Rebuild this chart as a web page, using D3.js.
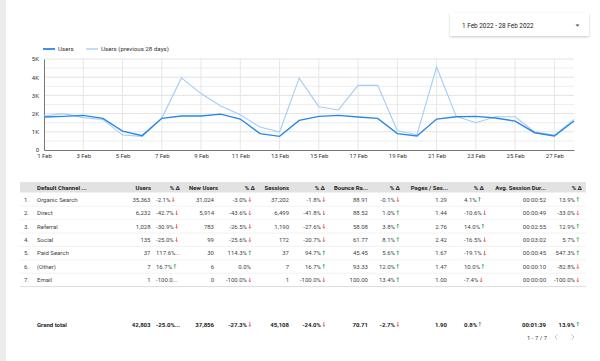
<!DOCTYPE html>
<html>
<head>
<meta charset="utf-8">
<script src="https://cdn.jsdelivr.net/npm/d3@7"></script>
<style>
  body { margin: 0; background: #fff; font-family: Roboto, "Noto Sans", sans-serif; }
  svg { display: block; }
</style>
</head>
<body>
<div id="chart"></div>
<script>
// ---- chart data (Feb 2022, daily) ----
var days = d3.range(1, 29);
var users = [1810, 1850, 1900, 1740, 1040, 790, 1740, 1870, 1870, 1970, 1700, 900, 750, 1630,
  1850, 1900, 1810, 1740, 900, 770, 1700, 1830, 1850, 1760, 1590, 950, 770, 1590];
var usersPrev = [1870, 2000, 1780, 1680, 820, 750, 1740, 3960, 3100, 2420, 1940, 1260, 990, 3950,
  2380, 2200, 3550, 3550, 1060, 840, 4560, 1850, 1500, 1830, 1830, 990, 820, 1680];
var yTicks = [0, 1000, 2000, 3000, 4000, 5000];

// ---- table data ----
var channels = ["Organic Search", "Direct", "Referral", "Social", "Paid Search", "(Other)", "Email"];
var usersCol = ["35,363", "6,232", "1,028", "135", "37", "7", "1"];
var usersDelta = ["-2.1% ↓", "-42.7% ↓", "-30.9% ↓", "-25.0% ↓", "117.6%...", "16.7% ↑", "-100.0..."];
var newUsersCol = ["31,024", "5,914", "783", "99", "30", "6", "0"];
var newUsersDelta = ["-3.0% ↓", "-43.6% ↓", "-26.5% ↓", "-25.6% ↓", "114.3% ↑", "0.0%", "-100.0% ↓"];
var sessionsCol = ["37,202", "6,499", "1,190", "172", "37", "7", "1"];
var sessionsDelta = ["-1.8% ↓", "-41.8% ↓", "-27.6% ↓", "-20.7% ↓", "94.7% ↑", "16.7% ↑", "-100.0% ↓"];
var bounceCol = ["88.91", "88.52", "58.08", "61.77", "45.45", "93.33", "100.00"];
var bounceDelta = ["-0.1% ↓", "1.0% ↑", "3.8% ↑", "8.1% ↑", "5.6% ↑", "12.0% ↑", "13.4% ↑"];
var pagesCol = ["1.29", "1.44", "2.76", "2.42", "1.67", "1.47", "1.00"];
var pagesDelta = ["4.1% ↑", "-10.6% ↓", "14.0% ↑", "-16.5% ↓", "-19.1% ↓", "10.0% ↑", "-7.4% ↓"];
var durCol = ["00:00:52", "00:00:49", "00:02:55", "00:03:02", "00:00:45", "00:00:10", "00:00:00"];
var durDelta = ["13.9% ↑", "-33.0% ↓", "12.9% ↑", "5.7% ↑", "547.3% ↑", "-82.8% ↓", "-100.0% ↓"];
var totals = ["Grand total", "42,803", "-25.0%...", "37,856", "-27.3% ↓", "45,108", "-24.0% ↓",
  "70.71", "-2.7% ↓", "1.90", "0.8% ↑", "00:01:39", "13.9% ↑"];
var headers = ["Default Channel ...", "Users", "% Δ", "New Users", "% Δ", "Sessions", "% Δ",
  "Bounce Ra...", "% Δ", "Pages / Ses...", "% Δ", "Avg. Session Dur...", "% Δ"];

var W = 600, H = 361;
var svg = d3.select("#chart").append("svg").attr("width", W).attr("height", H)
  .style("font-family", "Roboto, sans-serif");

// left grey strip
svg.append("rect").attr("x", 0).attr("y", 0).attr("width", 6).attr("height", H).attr("fill", "#ececec");

// date range control
var defs = svg.append("defs");
var f = defs.append("filter").attr("id", "shadow").attr("x", "-10%").attr("y", "-30%")
  .attr("width", "120%").attr("height", "170%");
f.append("feDropShadow").attr("dx", 0).attr("dy", 1).attr("stdDeviation", 1.2)
  .attr("flood-color", "#000").attr("flood-opacity", 0.22);
svg.append("rect").attr("x", 450).attr("y", 13).attr("width", 139).attr("height", 23)
  .attr("fill", "#fff").attr("filter", "url(#shadow)");
svg.append("text").attr("x", 462).attr("y", 27.5).attr("font-size", 6.4).attr("fill", "#222")
  .text("1 Feb 2022 - 28 Feb 2022");
svg.append("path").attr("d", "M575.5,24.5 L579.5,24.5 L577.5,26.5 Z").attr("fill", "#444");

// ---- line chart ----
var margin = { top: 59, left: 44, right: 26, bottom: 211 };
var width = W - margin.left - margin.right, height = H - margin.top - margin.bottom;
var g = svg.append("g").attr("transform", "translate(" + margin.left + "," + margin.top + ")");

var x = d3.scaleLinear().domain([1, 28]).range([0, width]);
var y = d3.scaleLinear().domain([0, 5000]).range([height, 0]);

// grid
g.selectAll(".hgrid").data(d3.range(500, 5001, 500)).enter().append("line")
  .attr("x1", 0).attr("x2", width).attr("y1", (d) => y(d)).attr("y2", (d) => y(d))
  .attr("stroke", (d) => (d % 1000 === 0 ? "#e3e3e3" : "#eeeeee")).attr("stroke-width", 1);
g.selectAll(".vgrid").data(days.filter((d) => d % 2 === 1 && d > 1)).enter().append("line")
  .attr("x1", (d) => x(d)).attr("x2", (d) => x(d)).attr("y1", 0).attr("y2", height)
  .attr("stroke", "#e6e6e6");

var yAxis = g.append("g").call(d3.axisLeft(y).tickValues(yTicks).tickSize(0).tickPadding(5)
  .tickFormat((d) => (d === 0 ? "0" : d / 1000 + "K")));
yAxis.select(".domain").attr("stroke", "#777");
yAxis.selectAll("text").attr("font-size", 6).attr("fill", "#333").attr("font-family", "Roboto, sans-serif");

var xAxis = g.append("g").attr("transform", "translate(0," + height + ")")
  .call(d3.axisBottom(x).tickValues(days.filter((d) => d % 2 === 1)).tickSize(0).tickPadding(4)
    .tickFormat((d) => d + " Feb"));
xAxis.select(".domain").attr("stroke", "#777");
xAxis.selectAll("text").attr("font-size", 6).attr("fill", "#333").attr("font-family", "Roboto, sans-serif");

var line = d3.line().x((d, i) => x(days[i])).y((d) => y(d));
g.append("path").datum(usersPrev).attr("d", line).attr("fill", "none")
  .attr("stroke", "#a3cdf7").attr("stroke-width", 1.1);
g.append("path").datum(users).attr("d", line).attr("fill", "none")
  .attr("stroke", "#2a86e8").attr("stroke-width", 1.4);

// legend
var legendItems = [{ label: "Users", color: "#2a86e8", x: 43 }, { label: "Users (previous 28 days)", color: "#bcdaf8", x: 86 }];
var lg = svg.selectAll(".legend").data(legendItems).enter().append("g")
  .attr("transform", (d) => "translate(" + d.x + ",49)");
lg.append("line").attr("x1", 0).attr("x2", 12).attr("stroke", (d) => d.color).attr("stroke-width", 1.8);
lg.append("text").attr("x", 15).attr("y", 2.2).attr("font-size", 6.2).attr("fill", "#333").text((d) => d.label);

// ---- table ----
var cols = [
  { hx: 37, vx: 37, anchor: "start" },
  { hx: 151, vx: 150.5, anchor: "end" },
  { hx: 180, vx: 156, anchor: "start" },
  { hx: 218, vx: 214, anchor: "end" },
  { hx: 255, vx: 251, anchor: "end" },
  { hx: 289, vx: 289, anchor: "end" },
  { hx: 325, vx: 325, anchor: "end" },
  { hx: 368, vx: 368, anchor: "end" },
  { hx: 400, vx: 399, anchor: "end" },
  { hx: 448, vx: 447, anchor: "end" },
  { hx: 484, vx: 464, anchor: "start" },
  { hx: 546, vx: 546, anchor: "end" },
  { hx: 582, vx: 579, anchor: "end" },
];
var tableCols = [channels, usersCol, usersDelta, newUsersCol, newUsersDelta, sessionsCol, sessionsDelta,
  bounceCol, bounceDelta, pagesCol, pagesDelta, durCol, durDelta];

var tbl = svg.append("g");
tbl.append("rect").attr("x", 20).attr("y", 182).attr("width", 566).attr("height", 10.5).attr("fill", "#e2e2e2");
tbl.selectAll(".hdr").data(headers).enter().append("text")
  .attr("x", (d, i) => cols[i].hx).attr("y", 189.5)
  .attr("text-anchor", (d, i) => (i === 0 ? "start" : "end"))
  .attr("font-size", 6).attr("font-weight", "bold").attr("fill", "#222").text((d) => d);

var rowY = d3.scaleLinear().domain([0, 1]).range([199.5, 212.9]);

// small coloured arrow drawn as a path
function arrowMark(sel, ax, yy, down) {
  var top = yy - 4.4, bot = yy - 0.2;
  var d = down
    ? "M" + ax + "," + top + "V" + bot + "M" + (ax - 1.1) + "," + (bot - 1.2) + "L" + ax + "," + bot + "L" + (ax + 1.1) + "," + (bot - 1.2)
    : "M" + ax + "," + bot + "V" + top + "M" + (ax - 1.1) + "," + (top + 1.2) + "L" + ax + "," + top + "L" + (ax + 1.1) + "," + (top + 1.2);
  sel.append("path").attr("d", d).attr("fill", "none")
    .attr("stroke", down ? "#e8453c" : "#2fa84f").attr("stroke-width", 0.75);
}

// draw a cell, splitting the trailing arrow into a coloured glyph
function cell(sel, txt, c, yy, bold) {
  var arrow = txt.slice(-1);
  var hasArrow = arrow === "↓" || arrow === "↑";
  var body = hasArrow ? txt.slice(0, -2) : txt;
  var tx = hasArrow && c.anchor === "end" ? c.vx - 4 : c.vx;
  var t = sel.append("text").attr("x", tx).attr("y", yy).attr("font-size", 6)
    .attr("text-anchor", c.anchor)
    .attr("fill", bold ? "#222" : "#444").attr("font-weight", bold ? "bold" : "normal").text(body);
  if (hasArrow) {
    var ax = c.anchor === "end" ? c.vx - 1.2 : c.vx + t.node().getComputedTextLength() + 2.8;
    arrowMark(sel, ax, yy, arrow === "↓");
  }
}

channels.forEach(function (ch, r) {
  var yy = rowY(r) + 2.2;
  tbl.append("text").attr("x", 24).attr("y", yy).attr("font-size", 6).attr("fill", "#444").text(r + 1 + ".");
  tableCols.forEach(function (col, ci) {
    cell(tbl, col[r], cols[ci], yy, false);
  });
  tbl.append("line").attr("x1", 20).attr("x2", 586)
    .attr("y1", rowY(r) + 6.7).attr("y2", rowY(r) + 6.7)
    .attr("stroke", r === channels.length - 1 ? "#dcdcdc" : "#efefef").attr("stroke-width", r === channels.length - 1 ? 1 : 0.8);
});

totals.forEach(function (t, ci) {
  cell(tbl, t, cols[ci], 326.5, true);
});

// pagination
svg.append("text").attr("x", 527).attr("y", 339.5).attr("font-size", 6).attr("fill", "#444").text("1 - 7 / 7");
svg.append("path").attr("d", "M557.5,334.5 L555,337 L557.5,339.5").attr("fill", "none").attr("stroke", "#bbb").attr("stroke-width", 0.9);
svg.append("path").attr("d", "M571.5,334.5 L574,337 L571.5,339.5").attr("fill", "none").attr("stroke", "#bbb").attr("stroke-width", 0.9);
</script>
</body>
</html>
